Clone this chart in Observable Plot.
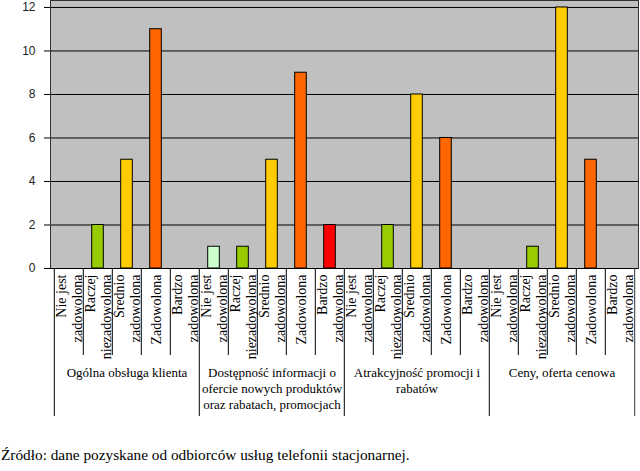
<!DOCTYPE html>
<html>
<head>
<meta charset="utf-8">
<script src="https://cdn.jsdelivr.net/npm/d3@7"></script>
<script src="https://cdn.jsdelivr.net/npm/@observablehq/plot@0.6"></script>
<style>
  body { margin: 0; background: #fff; width: 640px; height: 471px; overflow: hidden; position: relative; }
  #chart svg { display: block; }
  #caption { position: absolute; left: 1px; top: 446px; font-family: "Liberation Serif", "Times New Roman", serif; font-size: 15.3px; line-height: 17px; color: #000; white-space: nowrap; }
</style>
</head>
<body>
<div id="chart"></div>
<div id="caption">Źródło: dane pozyskane od odbiorców usług telefonii stacjonarnej.</div>
<script>
// Categories (groups) and sub-categories (satisfaction levels)
const groups = [
  "Ogólna obsługa klienta",
  "Dostępność informacji o\nofercie nowych produktów\noraz rabatach, promocjach",
  "Atrakcyjność promocji i\nrabatów",
  "Ceny, oferta cenowa"
];
const levels = [
  "Nie jest\nzadowolona",
  "Raczej\nniezadowolona",
  "Średnio\nzadowolona",
  "Zadowolona",
  "Bardzo\nzadowolona"
];
// Series values per group (counts, in level order)
const valuesOgolna = [0, 2, 5, 11, 0];
const valuesDostepnosc = [1, 1, 5, 9, 2];
const valuesAtrakcyjnosc = [0, 2, 8, 6, 0];
const valuesCeny = [0, 1, 12, 5, 0];
const levelColors = ["#CCFFCC", "#99CC00", "#FFCC00", "#FF6600", "#FF0000"];
const yTicks = [0, 2, 4, 6, 8, 10, 12];

const seriesByGroup = [valuesOgolna, valuesDostepnosc, valuesAtrakcyjnosc, valuesCeny];
const rows = [];
groups.forEach((g, gi) => {
  levels.forEach((l, li) => {
    rows.push({key: gi + "|" + li, gi, li, group: g, level: l, value: seriesByGroup[gi][li], color: levelColors[li]});
  });
});
const keys = rows.map(d => d.key);

const W = 640, H = 440, mL = 50, mR = 2, mT = 0, mB = 172;
const bw = (W - mL - mR) / keys.length;
const serif = "Liberation Serif, Times New Roman, serif";

const chart = Plot.plot({
  width: W,
  height: H,
  marginLeft: mL,
  marginRight: mR,
  marginTop: mT,
  marginBottom: mB,
  style: {background: "white", overflow: "visible"},
  x: {type: "band", domain: keys, padding: 0, axis: null},
  y: {domain: [0, 12.32], axis: null, label: null},
  marks: [
    Plot.frame({fill: "#C0C0C0"}),
    Plot.gridY(yTicks, {stroke: "black", strokeOpacity: 1}),
    Plot.barY(rows.filter(d => d.value > 0), {
      x: "key", y: "value", fill: "color", stroke: "black", strokeWidth: 1,
      insetLeft: (bw - 12) / 2, insetRight: (bw - 12) / 2
    }),
    Plot.frame({stroke: "#333"}),
    Plot.axisY(yTicks, {
      label: null,
      tickSize: 6, tickPadding: 9, stroke: "black",
      fontSize: 12, fontFamily: "Liberation Sans, Arial, sans-serif", fill: "#222"
    }),
    Plot.ruleY([0], {stroke: "black"}),
    // table lines: sub-category separators
    Plot.ruleX(rows.filter(d => d.li > 0), {x: "key", y1: 0, y2: -4, dx: -bw / 2, stroke: "black"}),
    // group separators (left edge of each group)
    Plot.ruleX(rows.filter(d => d.li === 0), {x: "key", y1: 0, y2: -6.8, dx: -bw / 2, stroke: "black"}),
    // right edge of the table
    Plot.ruleX(rows.filter(d => d.key === keys[keys.length - 1]), {x: "key", y1: 0, y2: -6.8, dx: bw / 2, stroke: "#333"}),
    // sub-category labels
    Plot.text(rows, {
      x: "key", text: "level", frameAnchor: "bottom", rotate: -90,
      textAnchor: "end", lineAnchor: "middle", lineHeight: 1.15, dy: 6,
      fontSize: 14, fontFamily: serif, fill: "black"
    }),
    // group labels
    Plot.text(rows.filter(d => d.li === 2), {
      x: "key", text: "group", frameAnchor: "bottom",
      lineAnchor: "top", lineHeight: 1.23, dy: 97,
      fontSize: 13, fontFamily: serif, fill: "black"
    })
  ]
});
document.getElementById("chart").appendChild(chart);
</script>
</body>
</html>
